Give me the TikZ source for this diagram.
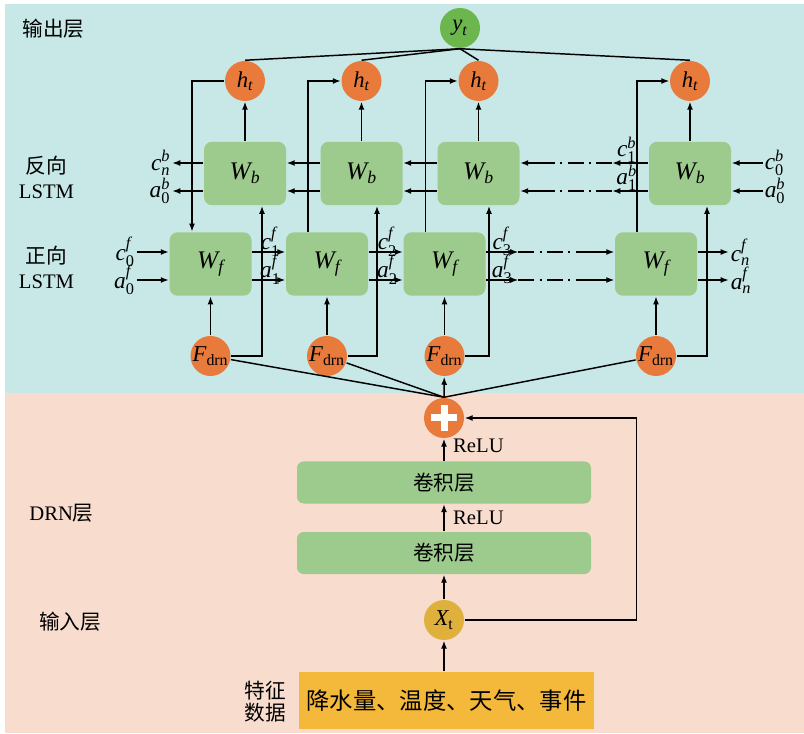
\RequirePackage{fix-cm}
\documentclass[tikz,border=0pt]{standalone}
\usepackage{fontspec}
\setmainfont{Liberation Serif}
\newfontfamily\cjk{Noto Sans CJK SC}
\usepackage{amsmath}
\usetikzlibrary{arrows.meta,positioning,calc}
\definecolor{bgtop}{HTML}{C8E8E8}
\definecolor{bgbot}{HTML}{F8DDCE}
\definecolor{cellgreen}{HTML}{9DCB8D}
\definecolor{dotorange}{HTML}{E87B3C}
\definecolor{outgreen}{HTML}{6CB64E}
\definecolor{xgold}{HTML}{E0B03C}
\definecolor{featgold}{HTML}{F4B93A}
\newcommand{\zh}[1]{{\cjk #1}}
\newcommand{\var}[3]{$\textit{#1}^{\textit{#2}}_{\text{#3}}$}
\newcommand{\vsub}[2]{$\textit{#1}_{\text{#2}}$}

\begin{document}
\begin{tikzpicture}[x=0.75pt,y=-0.75pt,line width=1.1pt,
  font=\fontsize{15.5}{18.75}\selectfont,
  arr/.style={-{Latex[length=6pt,width=4.5pt]}},
  gapline/.style={dash pattern=on 12pt off 4pt on 1.5pt off 4pt},
  cell/.style={fill=cellgreen,rounded corners=6pt,minimum width=61.5pt,minimum height=47.5pt,font=\fontsize{19}{22}\selectfont},
  ball/.style={circle,minimum size=30pt,inner sep=0pt,font=\fontsize{17}{20}\selectfont},
  hdot/.style={ball,fill=dotorange},
  lbl/.style={font=\fontsize{17.5}{20}\selectfont,inner sep=1pt},
  conv/.style={fill=cellgreen,rounded corners=5pt,minimum width=220.5pt,minimum height=31.5pt,font=\cjk\fontsize{15.5}{18}\selectfont}]
  \useasboundingbox (0,0) rectangle (804,734);
  \fill[bgtop] (5,4) rectangle (804,393);
  \fill[bgbot] (5,393) rectangle (804,733);

  \node (outlbl) at (53.5,28.5) {\zh{输出层}};
  \node[align=center] (bwlbl) at (46.5,177.5) {\zh{反向}\\LSTM};
  \node[align=center] (fwlbl) at (46.5,267) {\zh{正向}\\LSTM};
  \node (drnlbl) at (61.5,513) {DRN\zh{层}};
  \node (inlbl) at (70,622) {\zh{输入层}};
  \node[align=center,font=\cjk\fontsize{15.5}{16.5}\selectfont] (featlbl) at (265.5,701.5) {特征\\数据};

  \node[ball,fill=outgreen] (yt) at (460,28) {\vsub{y}{\itshape t}};
  \foreach \x [count=\i] in {245,361.5,478.5,690} {
    \node[hdot] (h\i) at (\x,81) {\vsub{h}{\itshape t}};
    \node[cell] (wb\i) at (\x,173.5) {\vsub{W}{\itshape b}};
  }
  \foreach \x [count=\i] in {210.5,327,444.5,656} {
    \node[cell] (wf\i) at (\x,264) {\vsub{W}{\itshape f}};
    \node[hdot] (fd\i) at (\x,356) {\vsub{F}{drn}};
  }
  \foreach \i in {1,...,4} {
    \draw[arr] (wb\i) -- (h\i);
    \draw (yt.south) -- (h\i.north);
    \draw[arr] (fd\i) -- (wf\i);
  }
  \foreach \i/\d in {1/17,2/15.5,3/10.5,4/17}
    \draw[arr] (fd\i.east) -| ($(wb\i.south)+(\d,0)$);
  \draw[arr] (h1.west) -| ($(wf1.north)+(-18.5,0)$);
  \foreach \i in {2,3,4}
    \draw[arr] ($(wf\i.north)+(-19,0)$) |- (h\i.west);

  % backward LSTM
  \foreach \dy/\v in {-10.5/c,17.5/a} {
    \draw[arr] ($(wb2.west)+(0,\dy)$) -- ($(wb1.east)+(0,\dy)$);
    \draw[arr] ($(wb3.west)+(0,\dy)$) -- ($(wb2.east)+(0,\dy)$);
    \draw[arr] ($(wb4.west)+(0,\dy)$) -- ++(-36,0) node[lbl,pos=.6,yshift=10pt] {\var{\v}{b}{1}} coordinate (bk\v);
    \draw[gapline] (bk\v) -- ++(-61,0) coordinate (bj\v);
    \draw[arr] (bj\v) -- ($(wb3.east)+(0,\dy)$);
    \draw[arr] ($(wb4.east)+(31,\dy)$) node[lbl,right] {\var{\v}{b}{0}} -- ($(wb4.east)+(0,\dy)$);
  }
  \draw[arr] ($(wb1.west)+(0,-10.5)$) -- ++(-31,0) node[lbl,left] {\var{c}{b}{\itshape n}};
  \draw[arr] ($(wb1.west)+(0,17.5)$) -- ++(-31,0) node[lbl,left] {\var{a}{b}{0}};

  % forward LSTM
  \foreach \dy/\v in {-12/c,16/a} {
    \draw[arr] ($(wf1.west)+(-32,\dy)$) node[lbl,left] {\var{\v}{f}{0}} -- ($(wf1.west)+(0,\dy)$);
    \draw[arr] ($(wf1.east)+(0,\dy)$) -- node[lbl,pos=.55,yshift=8pt] {\var{\v}{f}{1}} ($(wf2.west)+(0,\dy)$);
    \draw[arr] ($(wf2.east)+(0,\dy)$) -- node[lbl,pos=.55,yshift=8pt] {\var{\v}{f}{2}} ($(wf3.west)+(0,\dy)$);
    \draw[arr] ($(wf3.east)+(0,\dy)$) -- ++(32,0) node[lbl,midway,yshift=8pt] {\var{\v}{f}{3}} coordinate (fk\v);
    \draw[gapline] (fk\v) -- ++(64,0) coordinate (fj\v);
    \draw[arr] (fj\v) -- ($(wf4.west)+(0,\dy)$);
    \draw[arr] ($(wf4.east)+(0,\dy)$) -- ++(31,0) node[lbl,right] {\var{\v}{f}{\itshape n}};
  }

  % DRN
  \node[hdot] (plus) at (444,418) {};
  \fill[white] ($(plus)+(-13,-3.5)$) rectangle ($(plus)+(13,3.5)$);
  \fill[white] ($(plus)+(-3.5,-13)$) rectangle ($(plus)+(3.5,13)$);
  \node[conv] (conv2) at (444,482.5) {卷积层};
  \node[conv] (conv1) at (444,553) {卷积层};
  \node[ball,fill=xgold] (xt) at (444,620) {\vsub{X}{t}};
  \node[fill=featgold,minimum width=221pt,minimum height=42.75pt,font=\cjk\fontsize{17.5}{20}\selectfont] (feat) at (446.5,700.5) {降水量、温度、天气、事件};

  \foreach \i in {1,2,4}
    \draw (plus.north) -- (fd\i);
  \draw[arr] (plus.north) -- (fd3);
  \draw[arr] (conv2) -- node[pos=.7,right,xshift=3pt] {ReLU} (plus);
  \draw[arr] (conv1) -- node[midway,right,xshift=3pt] {ReLU} (conv2);
  \draw[arr] (xt) -- (conv1);
  \draw[arr] (feat.north -| xt.south) -- (xt.south);
  \draw[arr] (xt.east) -- ++(172,0) |- (plus.east);
\end{tikzpicture}
\end{document}
